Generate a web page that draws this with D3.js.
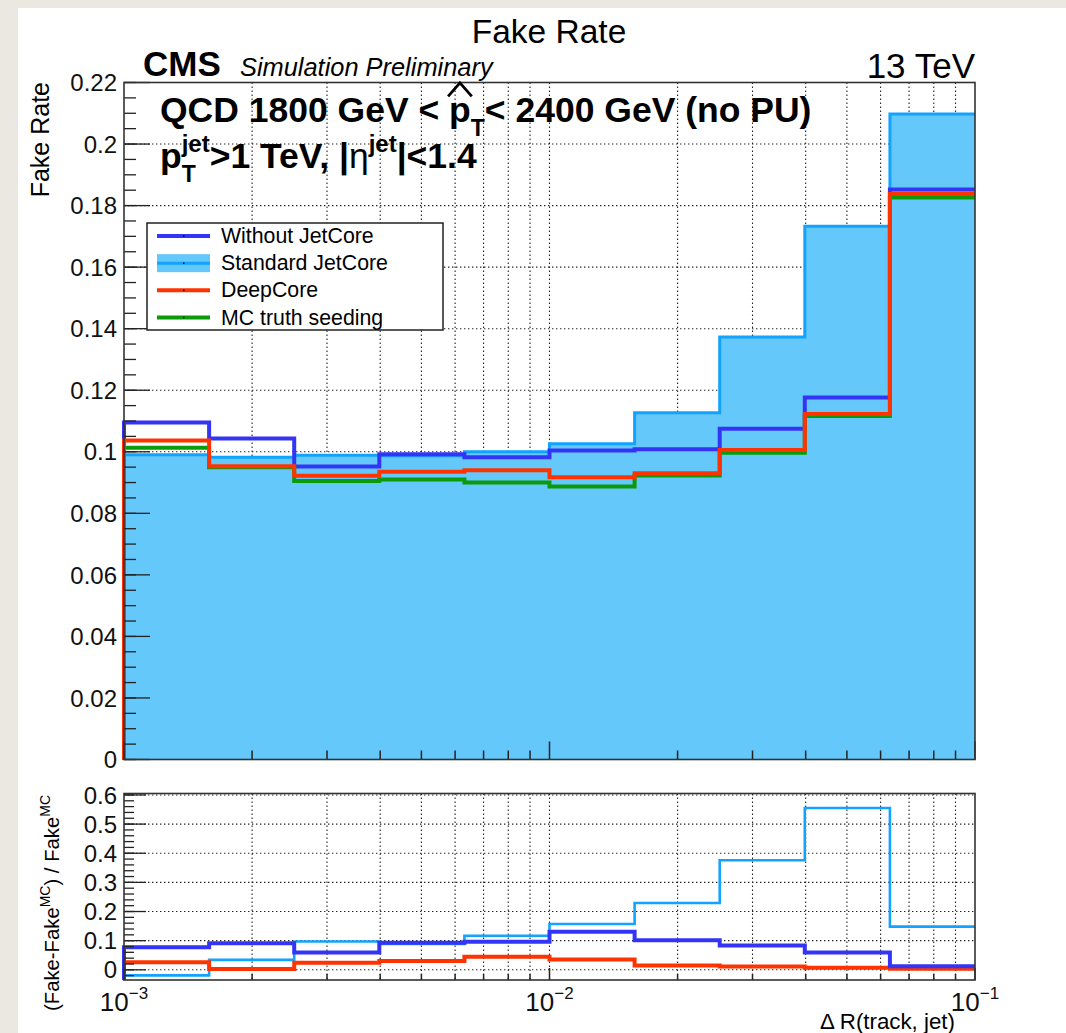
<!DOCTYPE html>
<html>
<head>
<meta charset="utf-8">
<script src="https://cdn.jsdelivr.net/npm/d3@7"></script>
<style>
  html, body { margin: 0; padding: 0; background: #ece9e4; }
  svg { display: block; font-family: "Liberation Sans", Arial, Helvetica, sans-serif; }
  text { white-space: pre; }
</style>
</head>
<body>
<svg id="chart" width="1066" height="1033"></svg>
<script>
// ---- data -------------------------------------------------------------
// ΔR(track, jet) bin edges (10 log-uniform bins between 1e-3 and 1e-1)
const binEdges = [0.001, 0.001585, 0.002512, 0.003981, 0.00631, 0.01,
                  0.01585, 0.02512, 0.03981, 0.0631, 0.1];

const seriesNames = ["Without JetCore", "Standard JetCore", "DeepCore", "MC truth seeding"];

// fake rate per bin
const fakeWithoutJetCore  = [0.1095, 0.1043, 0.0952, 0.0992, 0.0982, 0.1004, 0.1008, 0.1075, 0.1176, 0.1852];
const fakeStandardJetCore = [0.0990, 0.0982, 0.0989, 0.0987, 0.1000, 0.1026, 0.1127, 0.1373, 0.1733, 0.2098];
const fakeDeepCore        = [0.1037, 0.0953, 0.0922, 0.0935, 0.0940, 0.0917, 0.0930, 0.1006, 0.1123, 0.1838];
const fakeMCTruth         = [0.1013, 0.0950, 0.0905, 0.0910, 0.0900, 0.0887, 0.0923, 0.0997, 0.1116, 0.1826];

// (Fake - Fake^MC) / Fake^MC per bin
const ratioWithoutJetCore  = [0.077, 0.091, 0.059, 0.093, 0.096, 0.131, 0.101, 0.083, 0.059, 0.012];
const ratioStandardJetCore = [-0.019, 0.034, 0.097, 0.089, 0.117, 0.157, 0.229, 0.376, 0.555, 0.148];
const ratioDeepCore        = [0.026, 0.003, 0.024, 0.030, 0.045, 0.035, 0.015, 0.011, 0.007, 0.004];

// axis ticks
const topYTicks      = [0, 0.02, 0.04, 0.06, 0.08, 0.1, 0.12, 0.14, 0.16, 0.18, 0.2, 0.22];
const topYTickLabels = ["0", "0.02", "0.04", "0.06", "0.08", "0.1", "0.12", "0.14", "0.16", "0.18", "0.2", "0.22"];
const botYTicks      = [0, 0.1, 0.2, 0.3, 0.4, 0.5, 0.6];
const botYTickLabels = ["0", "0.1", "0.2", "0.3", "0.4", "0.5", "0.6"];
const xDecades       = [0.001, 0.01, 0.1];
const xDecadeExps    = ["\u22123", "\u22122", "\u22121"];

// ---- style ------------------------------------------------------------
const COL = {
  without: "#3434f6",
  stdLine: "#12a2ff",
  stdFill: "#64c8fb",
  deep:    "#ff3300",
  mc:      "#0a9a0a",
  frame:   "#333333",
  grid:    "#222222"
};

const svg = d3.select("#chart");
const W = 1066, H = 1033;

// page background: white canvas sitting on a light stone-coloured surround
svg.append("rect").attr("width", W).attr("height", H).attr("fill", "#ebe7e1");
svg.append("rect").attr("x", 18).attr("y", 8).attr("width", W - 18).attr("height", H - 8).attr("fill", "#ffffff");

// ---- scales -----------------------------------------------------------
const x = d3.scaleLog().domain([0.001, 0.1]).range([124, 975]);
const yTop = d3.scaleLinear().domain([0, 0.22]).range([759.5, 82.5]);
const yBot = d3.scaleLinear().domain([-0.035, 0.605]).range([980, 793.5]);

// all log ticks 1..9 × decade
const logTicks = [];
xDecades.slice(0, 2).forEach(d => { for (let k = 1; k <= 9; k++) logTicks.push(d * k); });
logTicks.push(0.1);

// step-histogram outline, rising from the axis minimum at the first edge
function stepPoints(vals, base) {
  const pts = [[binEdges[0], base]];
  vals.forEach((v, i) => pts.push([binEdges[i], v]));
  pts.push([binEdges[binEdges.length - 1], vals[vals.length - 1]]);
  return pts;
}

function grid(g, yScale, yTicks) {
  const [x0, x1] = x.range();
  const [yb, yt] = yScale.range();
  const gg = g.append("g").attr("class", "grid");
  gg.selectAll("line.vx").data(logTicks.filter(t => t > 0.001 && t < 0.1)).join("line")
    .attr("x1", d => x(d)).attr("x2", d => x(d)).attr("y1", yt).attr("y2", yb)
    .attr("stroke", COL.grid).attr("stroke-width", 1.1).attr("stroke-dasharray", "1.4,2.6");
  gg.selectAll("line.hy").data(yTicks.filter(t => yScale(t) < yb - 1 && yScale(t) > yt + 1)).join("line")
    .attr("x1", x0).attr("x2", x1).attr("y1", d => yScale(d)).attr("y2", d => yScale(d))
    .attr("stroke", COL.grid).attr("stroke-width", 1.1).attr("stroke-dasharray", "1.4,2.6");
}

function axes(g, yScale, yTicks, yLabels, minorStep, majorLen, minorLen, xMajLen, xMinLen, labelSize) {
  const [x0, x1] = x.range();
  const [yb, yt] = yScale.range();
  const dom = yScale.domain();
  const ax = g.append("g").attr("class", "axes");
  const minors = d3.range(Math.ceil(dom[0] / minorStep) * minorStep, dom[1] + 1e-9, minorStep)
    .filter(v => yScale(v) <= yb + 0.5 && yScale(v) >= yt - 0.5);
  ax.selectAll("line.ymin").data(minors).join("line")
    .attr("x1", x0).attr("x2", x0 + minorLen)
    .attr("y1", d => yScale(d)).attr("y2", d => yScale(d))
    .attr("stroke", "#222").attr("stroke-width", 1.3);
  ax.selectAll("line.ymaj").data(yTicks).join("line")
    .attr("x1", x0).attr("x2", x0 + majorLen)
    .attr("y1", d => yScale(d)).attr("y2", d => yScale(d))
    .attr("stroke", "#222").attr("stroke-width", 1.3);
  ax.selectAll("text.yl").data(yTicks).join("text")
    .attr("x", x0 - 7).attr("y", d => yScale(d) + labelSize * 0.36)
    .attr("text-anchor", "end").attr("font-size", labelSize).attr("fill", "#111")
    .text((d, i) => yLabels[i]);
  ax.selectAll("line.xt").data(logTicks).join("line")
    .attr("x1", d => x(d)).attr("x2", d => x(d))
    .attr("y1", yb).attr("y2", d => yb - (xDecades.includes(d) ? xMajLen : xMinLen))
    .attr("stroke", "#222").attr("stroke-width", 1.5);
  ax.append("rect").attr("x", x0).attr("y", yt).attr("width", x1 - x0).attr("height", yb - yt)
    .attr("fill", "none").attr("stroke", COL.frame).attr("stroke-width", 1.6);
}

const stepLine = (ys) => d3.line().curve(d3.curveStepAfter).x(d => x(d[0])).y(d => ys(d[1]));

// ---- top panel --------------------------------------------------------
const gTop = svg.append("g");
grid(gTop, yTop, topYTicks);

const area = d3.area().curve(d3.curveStepAfter)
  .x(d => x(d[0])).y0(yTop(0)).y1(d => yTop(d[1]));
const fillPts = fakeStandardJetCore.map((v, i) => [binEdges[i], v]);
fillPts.push([binEdges[binEdges.length - 1], fakeStandardJetCore[fakeStandardJetCore.length - 1]]);
gTop.append("path").attr("d", area(fillPts)).attr("fill", COL.stdFill);

gTop.append("path").attr("d", stepLine(yTop)(stepPoints(fakeStandardJetCore, 0)))
  .attr("fill", "none").attr("stroke", COL.stdLine).attr("stroke-width", 3);
gTop.append("path").attr("d", stepLine(yTop)(stepPoints(fakeWithoutJetCore, 0)))
  .attr("fill", "none").attr("stroke", COL.without).attr("stroke-width", 4);
gTop.append("path").attr("d", stepLine(yTop)(stepPoints(fakeMCTruth, 0)))
  .attr("fill", "none").attr("stroke", COL.mc).attr("stroke-width", 4);
gTop.append("path").attr("d", stepLine(yTop)(stepPoints(fakeDeepCore, 0)))
  .attr("fill", "none").attr("stroke", COL.deep).attr("stroke-width", 4);

axes(gTop, yTop, topYTicks, topYTickLabels, 0.005, 26, 12, 18, 9, 24);

// ---- bottom (ratio) panel ---------------------------------------------
const gBot = svg.append("g");
grid(gBot, yBot, botYTicks);
const clip = svg.append("clipPath").attr("id", "botclip");
clip.append("rect").attr("x", 120).attr("y", yBot.range()[1]).attr("width", 855).attr("height", yBot.range()[0] - yBot.range()[1]);
const gBotData = gBot.append("g").attr("clip-path", "url(#botclip)");
const botBase = yBot.domain()[0];
gBotData.append("path").attr("d", stepLine(yBot)(stepPoints(ratioStandardJetCore, botBase)))
  .attr("fill", "none").attr("stroke", COL.stdLine).attr("stroke-width", 2.6);
gBotData.append("path").attr("d", stepLine(yBot)(stepPoints(ratioDeepCore, botBase)))
  .attr("fill", "none").attr("stroke", COL.deep).attr("stroke-width", 4);
gBotData.append("path").attr("d", stepLine(yBot)(stepPoints(ratioWithoutJetCore, botBase)))
  .attr("fill", "none").attr("stroke", COL.without).attr("stroke-width", 4);

axes(gBot, yBot, botYTicks, botYTickLabels, 0.02, 22, 10, 12, 6, 24);

// x tick labels 10^n under the ratio panel
svg.append("g").selectAll("text").data(xDecades).join("text")
  .attr("x", d => x(d)).attr("y", 1011).attr("text-anchor", "middle").attr("fill", "#111")
  .each(function (d, i) {
    const t = d3.select(this);
    t.append("tspan").attr("font-size", 26).text("10");
    t.append("tspan").attr("font-size", 17).attr("dy", -12).text(xDecadeExps[i]);
  });

// ---- text -------------------------------------------------------------
function rich(g, x0, y0, parts, base) {
  let cx = x0, prevStart = x0, prevEnd = x0;
  parts.forEach(p => {
    const sx = p.stack ? prevStart : cx;
    const t = g.append("text").attr("x", sx).attr("y", y0 + (p.shift || 0))
      .attr("font-size", p.size || base.size)
      .attr("font-weight", p.weight || base.weight)
      .attr("font-style", p.style || "normal")
      .attr("fill", "#000").text(p.text);
    const w = t.node().getComputedTextLength();
    if (p.hat) {
      const hs = p.size || base.size;
      g.append("path")
        .attr("d", `M${sx - 1},${y0 - hs * 0.72} L${sx + w / 2},${y0 - hs * 1.1} L${sx + w + 1},${y0 - hs * 0.72}`)
        .attr("fill", "none").attr("stroke", "#000").attr("stroke-width", 2.8);
    }
    if (p.stack) cx = Math.max(prevEnd, sx + w);
    else { prevStart = sx; prevEnd = sx + w; cx = sx + w; }
  });
}

svg.append("text").attr("x", 549).attr("y", 43).attr("text-anchor", "middle")
  .attr("font-size", 33.5).attr("fill", "#000").text("Fake Rate");

svg.append("text").attr("x", 143).attr("y", 76).attr("font-size", 35).attr("font-weight", "bold")
  .attr("fill", "#000").text("CMS");
svg.append("text").attr("x", 240).attr("y", 76).attr("font-size", 25.4).attr("font-style", "italic")
  .attr("fill", "#000").text("Simulation Preliminary");
svg.append("text").attr("x", 975).attr("y", 78).attr("text-anchor", "end").attr("font-size", 35)
  .attr("fill", "#000").text("13 TeV");

const gLab = svg.append("g");
rich(gLab, 160, 122, [
  { text: "QCD 1800 GeV < " },
  { text: "p", hat: true },
  { text: "T", size: 23, shift: 14 },
  { text: "< 2400 GeV (no PU)" }
], { size: 35.5, weight: "bold" });

rich(gLab, 160, 168, [
  { text: "p" },
  { text: "jet", size: 24, shift: -16 },
  { text: "T", size: 23, shift: 14, stack: true },
  { text: ">1 TeV, |" },
  { text: "η", weight: "normal" },
  { text: "jet", size: 24, shift: -16 },
  { text: "|<1.4" }
], { size: 35.5, weight: "bold" });

// axis titles
svg.append("text").attr("transform", "translate(49,82) rotate(-90)")
  .attr("text-anchor", "end").attr("font-size", 25).attr("fill", "#000").text("Fake Rate");

const yt2 = svg.append("text").attr("transform", "translate(59,795) rotate(-90)")
  .attr("text-anchor", "end").attr("font-size", 20.3).attr("fill", "#000");
yt2.append("tspan").text("(Fake-Fake");
yt2.append("tspan").attr("font-size", 14).attr("dy", -9).text("MC");
yt2.append("tspan").attr("dy", 9).text(") / Fake");
yt2.append("tspan").attr("font-size", 14).attr("dy", -9).text("MC");

svg.append("text").attr("x", 955).attr("y", 1029).attr("text-anchor", "end")
  .attr("font-size", 22.3).attr("fill", "#000").text("\u0394 R(track, jet)");

// ---- legend -----------------------------------------------------------
const leg = svg.append("g");
leg.append("rect").attr("x", 147).attr("y", 223).attr("width", 296).attr("height", 107)
  .attr("fill", "#fff").attr("stroke", "#222").attr("stroke-width", 1.5);
const legStyle = [
  { color: COL.without, fill: null },
  { color: COL.stdLine, fill: COL.stdFill },
  { color: COL.deep, fill: null },
  { color: COL.mc, fill: null }
];
const legY = d3.scaleLinear().domain([0, 3]).range([236, 317.5]);
seriesNames.forEach((name, i) => {
  const cy = legY(i);
  const s = legStyle[i];
  if (s.fill) {
    leg.append("rect").attr("x", 157).attr("y", cy - 9).attr("width", 53).attr("height", 18).attr("fill", s.fill);
    leg.append("line").attr("x1", 157).attr("x2", 210).attr("y1", cy).attr("y2", cy)
      .attr("stroke", s.color).attr("stroke-width", 3);
  } else {
    leg.append("line").attr("x1", 157).attr("x2", 210).attr("y1", cy).attr("y2", cy)
      .attr("stroke", s.color).attr("stroke-width", 4);
  }
  leg.append("rect").attr("x", 183).attr("y", cy - 0.75).attr("width", 1.5).attr("height", 1.5).attr("fill", "#000");
  leg.append("text").attr("x", 221).attr("y", cy + 7).attr("font-size", 21.3).attr("fill", "#000").text(name);
});
</script>
</body>
</html>
